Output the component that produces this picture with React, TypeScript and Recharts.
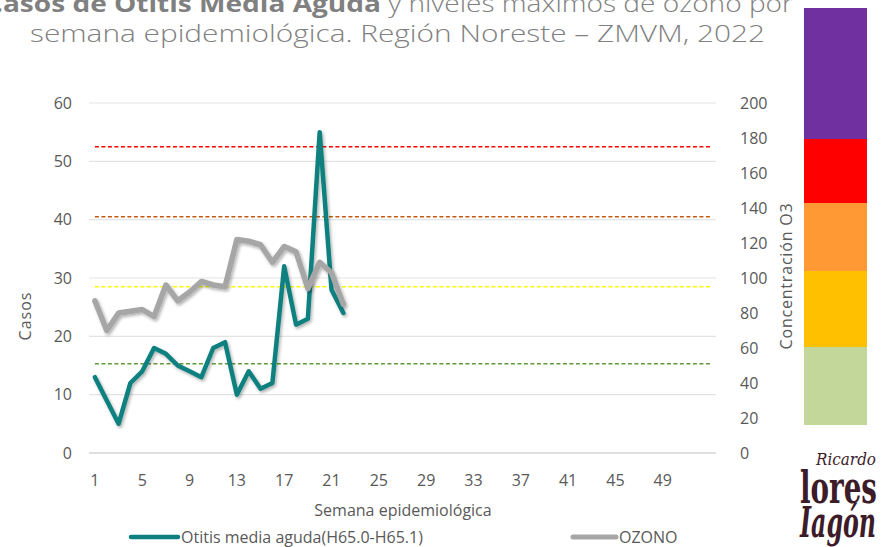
import { LineChart, Line, XAxis, YAxis, CartesianGrid, ReferenceLine } from "recharts"

// semanas epidemiológicas con dato (2022)
const semanas = [1, 2, 3, 4, 5, 6, 7, 8, 9, 10, 11, 12, 13, 14, 15, 16, 17, 18, 19, 20, 21, 22]
const otitis = [13, 9, 5, 12, 14, 18, 17, 15, 14, 13, 18, 19, 10, 14, 11, 12, 32, 22, 23, 55, 28, 24]
const ozono = [87, 70, 80, 81, 82, 78, 96, 87, 92, 98, 96, 95, 122, 121, 119, 109, 118, 115, 94, 109, 103, 85]

const ticksSemana = [1, 5, 9, 13, 17, 21, 25, 29, 33, 37, 41, 45, 49]
const ticksCasos = [0, 10, 20, 30, 40, 50, 60]
const ticksOzono = [0, 20, 40, 60, 80, 100, 120, 140, 160, 180, 200]

// umbrales de calidad del aire para ozono (ppb)
const umbrales = [51, 95, 135, 175]
const coloresUmbral = ["#5e9a35", "#ffff00", "#c65911", "#ff0000"]

// barra de colores (de arriba a abajo)
const coloresBarra = ["#7030a0", "#ff0000", "#ff9933", "#ffc000", "#c4d79b"]

const FONT = "'Open Sans', 'Noto Sans', sans-serif"
const GRIS = "#595959"

const data = semanas.map((s, i) => ({ semana: s, otitis: otitis[i], ozono: ozono[i] }))

function Overlay() {
  // bordes de la barra de colores
  const cortes = [8, 139, 203, 271, 347, 425]
  return (
    <svg
      width={887}
      height={547}
      style={{ position: "absolute", left: 0, top: 0, pointerEvents: "none" }}
    >
      <text x={-15} y={12} fontFamily={FONT} fontSize={24} fill="#808080" textLength={808} lengthAdjust="spacingAndGlyphs">
        <tspan fontWeight={700}>Casos de Otitis Media Aguda</tspan>
        <tspan fontWeight={300}> y niveles máximos de ozono por</tspan>
      </text>
      <text x={30} y={42} fontFamily={FONT} fontSize={24} fontWeight={300} fill="#808080" textLength={735} lengthAdjust="spacingAndGlyphs">
        semana epidemiológica. Región Noreste – ZMVM, 2022
      </text>

      <text
        transform="translate(31,316) rotate(-90)"
        textAnchor="middle"
        fontFamily={FONT}
        fontSize={16}
        fill={GRIS}
        letterSpacing={1}
      >
        Casos
      </text>
      <text
        transform="translate(792,276) rotate(-90)"
        textAnchor="middle"
        fontFamily={FONT}
        fontSize={16}
        fill={GRIS}
        letterSpacing={0.8}
      >
        Concentración O3
      </text>
      <text x={403} y={516} textAnchor="middle" fontFamily={FONT} fontSize={16} fill={GRIS}>
        Semana epidemiológica
      </text>

      {/* leyenda */}
      <line x1={131} y1={537} x2={178} y2={537} stroke="#0f807f" strokeWidth={4.5} strokeLinecap="round" />
      <text x={181} y={543} fontFamily={FONT} fontSize={16} fill={GRIS}>
        Otitis media aguda(H65.0-H65.1)
      </text>
      <line x1={573} y1={537} x2={616} y2={537} stroke="#a6a6a6" strokeWidth={5} strokeLinecap="round" />
      <text x={619} y={543} fontFamily={FONT} fontSize={16} fill={GRIS}>
        OZONO
      </text>

      {coloresBarra.map((c, i) => (
        <rect key={c} x={804} y={cortes[i]} width={63} height={cortes[i + 1] - cortes[i]} fill={c} />
      ))}

      {/* logotipo */}
      <g fill="#3d1c2a" fontFamily="'DejaVu Serif', serif">
        <text x={816} y={465} fontSize={17} fontStyle="italic" textLength={60} lengthAdjust="spacingAndGlyphs">
          Ricardo
        </text>
        <text x={800} y={503} fontSize={44} fontWeight={700} textLength={77} lengthAdjust="spacingAndGlyphs">
          lores
        </text>
        <text x={800} y={537} fontSize={42} fontWeight={700} fontStyle="italic" textLength={76} lengthAdjust="spacingAndGlyphs">
          Iagón
        </text>
      </g>
    </svg>
  )
}

export default function App() {
  return (
    <div
      style={{
        position: "absolute",
        left: 0,
        top: 0,
        width: 887,
        height: 547,
        background: "#fff",
        overflow: "hidden",
      }}
    >
      <LineChart width={887} height={547} data={data} margin={{ top: 103, right: 111, bottom: 64, left: 29 }}>
        <defs>
          <filter id="sombra" x="-10%" y="-10%" width="120%" height="130%">
            <feDropShadow dx={1.5} dy={2} stdDeviation={1.5} floodColor="#000" floodOpacity={0.3} />
          </filter>
        </defs>
        <CartesianGrid yAxisId="left" vertical={false} stroke="#e3e3e3" strokeWidth={1.2} />
        <XAxis
          dataKey="semana"
          type="number"
          domain={[0.5, 53.5]}
          ticks={ticksSemana}
          interval={0}
          height={30}
          tickLine={false}
          axisLine={{ stroke: "#d9d9d9", strokeWidth: 1.5 }}
          tickMargin={16}
          tick={{ fill: GRIS, fontSize: 16, fontFamily: FONT }}
        />
        <YAxis
          yAxisId="left"
          domain={[0, 60]}
          ticks={ticksCasos}
          width={60}
          axisLine={false}
          tickLine={false}
          tickMargin={11}
          tick={{ fill: GRIS, fontSize: 16, fontFamily: FONT }}
        />
        <YAxis
          yAxisId="right"
          orientation="right"
          domain={[0, 200]}
          ticks={ticksOzono}
          width={60}
          axisLine={false}
          tickLine={false}
          tickMargin={18}
          tick={{ fill: GRIS, fontSize: 16, fontFamily: FONT }}
        />
        {umbrales.map((u, i) => (
          <ReferenceLine
            key={u}
            yAxisId="right"
            segment={[
              { x: 1, y: u },
              { x: 53, y: u },
            ]}
            stroke={coloresUmbral[i]}
            strokeWidth={1.5}
            strokeDasharray="4 2.5"
          />
        ))}
        <Line
          yAxisId="left"
          type="linear"
          dataKey="otitis"
          stroke="#0f807f"
          strokeWidth={4.5}
          strokeLinejoin="round"
          strokeLinecap="round"
          dot={false}
          filter="url(#sombra)"
          isAnimationActive={false}
        />
        <Line
          yAxisId="right"
          type="linear"
          dataKey="ozono"
          stroke="#a6a6a6"
          strokeWidth={5.5}
          strokeLinejoin="round"
          strokeLinecap="round"
          dot={false}
          filter="url(#sombra)"
          isAnimationActive={false}
        />
      </LineChart>
      <Overlay />
    </div>
  )
}
